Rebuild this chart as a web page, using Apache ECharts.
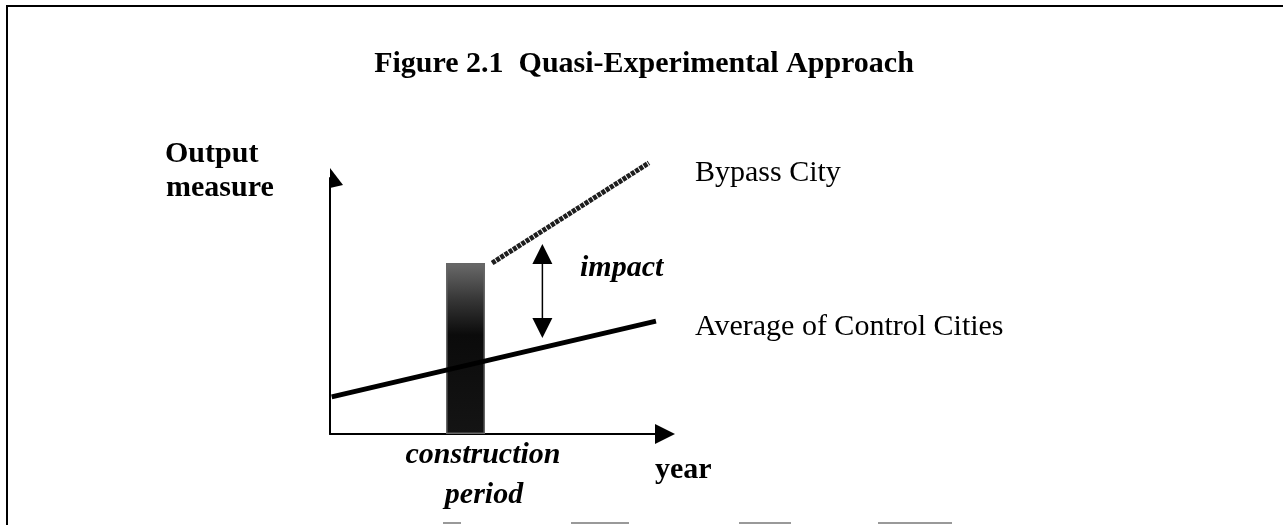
<!DOCTYPE html>
<html lang="en">
<head>
    <meta charset="UTF-8">
    <title>Figure 2.1 Quasi-Experimental Approach</title>
    <script src="https://cdn.jsdelivr.net/npm/echarts@6/dist/echarts.min.js"></script>
    <style type="text/css">
        body{
            margin: 0px;
            padding: 0px;
            background: #fff;
        }
        #chart{
            width: 1288px;
            height: 525px;
        }
    </style>
</head>
<body>
    <div id="chart"></div>
<script type="text/javascript">
    // schematic values (axis units 0..100, no real scale)
    var bypassCity = [[48.4, 66.8], [95.2, 105.9]];
    var controlCities = [[0.5, 14.5], [97.3, 44.1]];
    var constructionPeriod = [[40.45, 66.8]];
    var impactArrow = [[63.4, 70.3], [63.4, 41.4]];

    var serif = '"Liberation Serif", "Times New Roman", serif';
    var triangle = 'path://M10,0 L20,20 L0,20 Z';
    // half arrow, right side of the axis only
    var halfArrow = 'path://M0,20 M13,0 L26,17 L13,20 Z';

    function label(text, x, y, weight, style, align) {
        return {
            type: 'text',
            x: x,
            y: y,
            silent: true,
            style: {
                text: text,
                font: (style || 'normal') + ' ' + (weight || 'normal') + ' 30px ' + serif,
                fill: '#000',
                align: align || 'left',
                verticalAlign: 'middle'
            }
        };
    }

    function rule(x1, y1, x2, y2, color) {
        return {
            type: 'line',
            silent: true,
            shape: {x1: x1, y1: y1, x2: x2, y2: y2},
            style: {stroke: color || '#000', lineWidth: 2}
        };
    }

    var chart = echarts.init(document.getElementById('chart'));
    chart.setOption({
        animation: false,
        backgroundColor: '#fff',
        title: {
            text: 'Figure 2.1  Quasi-Experimental Approach',
            left: 'center',
            top: 44,
            textStyle: {fontFamily: serif, fontWeight: 'bold', fontSize: 30, color: '#000'}
        },
        grid: {left: 330, right: 623, top: 178, bottom: 91},
        xAxis: {
            type: 'value',
            min: 0,
            max: 100,
            axisLine: {
                show: true,
                lineStyle: {color: '#000', width: 2},
                symbol: ['none', triangle],
                symbolSize: [20, 20]
            },
            axisTick: {show: false},
            axisLabel: {show: false},
            splitLine: {show: false}
        },
        yAxis: {
            type: 'value',
            min: 0,
            max: 100,
            axisLine: {
                show: true,
                lineStyle: {color: '#000', width: 2},
                symbol: ['none', halfArrow],
                symbolSize: [26, 20]
            },
            axisTick: {show: false},
            axisLabel: {show: false},
            splitLine: {show: false}
        },
        series: [
            {
                name: 'Average of Control Cities',
                type: 'line',
                data: controlCities,
                symbol: 'none',
                clip: false,
                lineStyle: {color: '#000', width: 5}
            },
            {
                name: 'Bypass City',
                type: 'line',
                data: bypassCity,
                symbol: 'none',
                clip: false,
                lineStyle: {color: '#1e1e1e', width: 5, type: [4, 1]}
            },
            {
                name: 'construction period',
                type: 'bar',
                data: constructionPeriod,
                barWidth: 39,
                z: 3,
                itemStyle: {
                    color: new echarts.graphic.LinearGradient(0, 0, 0, 1, [
                        {offset: 0, color: '#6a6a6a'},
                        {offset: 0.22, color: '#353535'},
                        {offset: 0.42, color: '#0b0b0b'},
                        {offset: 1, color: '#141414'}
                    ]),
                    borderColor: '#666',
                    borderWidth: 1.5
                }
            },
            {
                name: 'impact',
                type: 'line',
                data: [
                    {value: impactArrow[0], symbolRotate: 0},
                    {value: impactArrow[1], symbolRotate: 180}
                ],
                symbol: triangle,
                symbolSize: [20, 20],
                clip: false,
                itemStyle: {color: '#000'},
                lineStyle: {color: '#000', width: 1.5}
            }
        ],
        graphic: [
            rule(7, 6, 1283, 6),
            rule(7, 5, 7, 525),
            rule(443, 523, 461, 523, '#999'),
            rule(571, 523, 629, 523, '#999'),
            rule(739, 523, 791, 523, '#999'),
            rule(878, 523, 952, 523, '#999'),
            label('Output', 165, 154, 'bold'),
            label('measure', 166, 188, 'bold'),
            label('Bypass City', 695, 173),
            label('Average of Control Cities', 695, 327),
            label('impact', 580, 268, 'bold', 'italic'),
            label('construction', 483, 455, 'bold', 'italic', 'center'),
            label('period', 484, 495, 'bold', 'italic', 'center'),
            label('year', 655, 470, 'bold')
        ]
    });
</script>
</body>
</html>
